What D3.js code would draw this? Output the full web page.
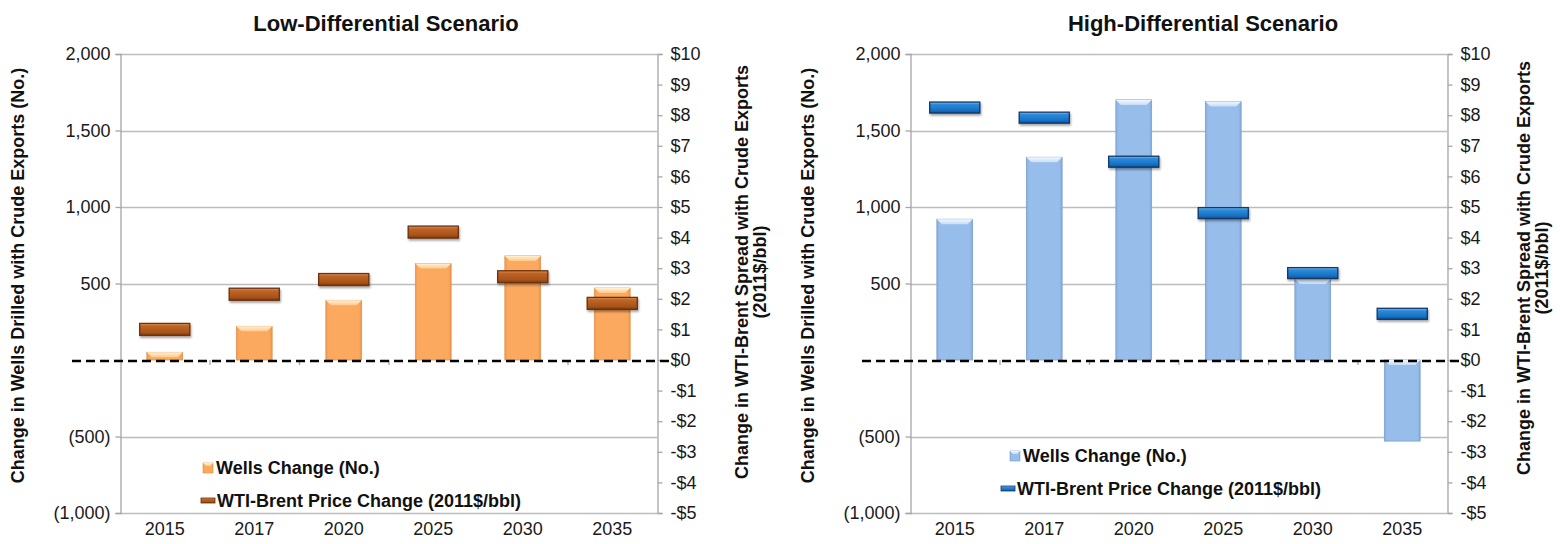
<!DOCTYPE html>
<html>
<head>
<meta charset="utf-8">
<script src="https://cdnjs.cloudflare.com/ajax/libs/d3/7.8.5/d3.min.js"></script>
<style>
  html, body { margin: 0; padding: 0; background: #ffffff; }
  svg { display: block; }
  .tick text { font-family: "Liberation Sans", Arial, sans-serif; font-size: 18px; fill: #1a1a1a; }
</style>
</head>
<body>
<svg id="chart" width="1560" height="544"></svg>
<script>
// Years shown on the category axis
const categories = ["2015", "2017", "2020", "2025", "2030", "2035"];

// Low-differential scenario
const lowWells = [50, 220, 390, 630, 680, 470];          // change in wells drilled (No.)
const lowPrice = [1.00, 2.15, 2.63, 4.18, 2.72, 1.85];   // WTI-Brent spread change (2011$/bbl)

// High-differential scenario
const highWells = [920, 1325, 1700, 1690, 530, -530];
const highPrice = [8.25, 7.92, 6.48, 4.80, 2.84, 1.51];

// Axis tick values
const wellsTicks = [-1000, -500, 0, 500, 1000, 1500, 2000];
const priceTicks = [-5, -4, -3, -2, -1, 0, 1, 2, 3, 4, 5, 6, 7, 8, 9, 10];

const svg = d3.select("#chart");
const FONT = '"Liberation Sans", Arial, sans-serif';
const NARROW = '"Liberation Sans Narrow", "Arial Narrow", "Liberation Sans", Arial, sans-serif';

// Gradients for the bevelled bars and markers
const defs = svg.append("defs");
function vGrad(id, stops) {
  const g = defs.append("linearGradient").attr("id", id)
    .attr("x1", 0).attr("y1", 0).attr("x2", 0).attr("y2", 1);
  stops.forEach(s => g.append("stop").attr("offset", s[0]).attr("stop-color", s[1]));
}
function hGrad(id, stops) {
  const g = defs.append("linearGradient").attr("id", id)
    .attr("x1", 0).attr("y1", 0).attr("x2", 1).attr("y2", 0);
  stops.forEach(s => g.append("stop").attr("offset", s[0]).attr("stop-color", s[1]));
}
hGrad("orangeBody", [[0, "#F39A4E"], [0.08, "#FBA95F"], [0.92, "#FBA95F"], [1, "#EE9448"]]);
vGrad("orangeTop", [[0, "#FFF1D6"], [1, "#FDC98A"]]);
vGrad("brownBody", [[0, "#E09358"], [0.22, "#BE6426"], [0.75, "#A9531A"], [1, "#7C3A0E"]]);
hGrad("blueBody", [[0, "#86ADDF"], [0.08, "#97BDEB"], [0.92, "#97BDEB"], [1, "#84A9DA"]]);
vGrad("blueTop", [[0, "#F2F8FF"], [1, "#C6DDF7"]]);
vGrad("navyBody", [[0, "#7CC3F5"], [0.22, "#2B8BDB"], [0.75, "#1670C2"], [1, "#0F4F93"]]);

const shadow = defs.append("filter").attr("id", "shadow")
  .attr("x", "-20%").attr("y", "-40%").attr("width", "140%").attr("height", "200%");
shadow.append("feGaussianBlur").attr("in", "SourceAlpha").attr("stdDeviation", 1.2).attr("result", "b");
shadow.append("feOffset").attr("in", "b").attr("dx", 0.5).attr("dy", 1.5).attr("result", "o");
shadow.append("feComponentTransfer").attr("in", "o").attr("result", "s")
  .append("feFuncA").attr("type", "linear").attr("slope", 0.35);
const merge = shadow.append("feMerge");
merge.append("feMergeNode").attr("in", "s");
merge.append("feMergeNode").attr("in", "SourceGraphic");

const wellsFmt = v => v === 0 ? "" : (v < 0 ? "(" + d3.format(",")(-v) + ")" : d3.format(",")(v));
const priceFmt = v => (v < 0 ? "-$" + (-v) : "$" + v);

function drawPanel(cfg) {
  const { x0, x1, yTop, yBot, title, titleX, wells, price, theme,
          legendX, legendY, legendX2, rightTitleX, rightTitleY } = cfg;
  const g = svg.append("g");

  const x = d3.scaleBand().domain(categories).range([x0, x1]).paddingInner(0.6).paddingOuter(0.3);
  const yW = d3.scaleLinear().domain([-1000, 2000]).range([yBot, yTop]);
  const yP = d3.scaleLinear().domain([-5, 10]).range([yBot, yTop]);

  // horizontal gridlines at the wells ticks
  g.append("g").selectAll("line").data(wellsTicks.filter(v => v !== 0)).join("line")
    .attr("x1", x0).attr("x2", x1)
    .attr("y1", d => Math.round(yW(d)) + 0.5).attr("y2", d => Math.round(yW(d)) + 0.5)
    .attr("stroke", "#BDBDBD").attr("stroke-width", 1.3);

  // left axis (wells)
  const axL = g.append("g").attr("transform", `translate(${x0 + 0.5},0)`)
    .call(d3.axisLeft(yW).tickValues(wellsTicks).tickFormat(wellsFmt).tickSize(5).tickPadding(5));
  axL.selectAll(".domain").attr("stroke", "#A6A6A6").attr("stroke-width", 1.3);
  axL.selectAll(".tick line").attr("stroke", "#A6A6A6").attr("stroke-width", 1.3);

  // right axis (price)
  const axR = g.append("g").attr("transform", `translate(${x1 + 0.5},0)`)
    .call(d3.axisRight(yP).tickValues(priceTicks).tickFormat(priceFmt).tickSize(5).tickPadding(8));
  axR.selectAll(".domain").attr("stroke", "#A6A6A6").attr("stroke-width", 1.3);
  axR.selectAll(".tick line").attr("stroke", "#A6A6A6").attr("stroke-width", 1.3);

  // category labels along the bottom
  const axB = g.append("g").attr("transform", `translate(0,${yBot})`)
    .call(d3.axisBottom(x).tickSize(0).tickPadding(9));
  axB.select(".domain").remove();

  // category tick marks on the zero line
  const y0 = yW(0);
  g.append("g").selectAll("line").data(categories.slice(1)).join("line")
    .attr("x1", d => x(d) + x.bandwidth() / 2 - x.step() / 2 + 0.5)
    .attr("x2", d => x(d) + x.bandwidth() / 2 - x.step() / 2 + 0.5)
    .attr("y1", y0).attr("y2", y0 + 5)
    .attr("stroke", "#A6A6A6").attr("stroke-width", 1.3);

  // wells bars
  const bars = g.append("g").selectAll("g").data(categories).join("g");
  bars.append("rect")
    .attr("x", d => x(d)).attr("width", x.bandwidth())
    .attr("y", (d, i) => Math.min(yW(wells[i]), y0))
    .attr("height", (d, i) => Math.abs(yW(wells[i]) - y0))
    .attr("fill", `url(#${theme.bar})`).attr("stroke", theme.barEdge).attr("stroke-width", 0.8);
  bars.append("path")
    .attr("d", (d, i) => {
      const top = Math.min(yW(wells[i]), y0);
      const h = Math.min(5, Math.abs(yW(wells[i]) - y0));
      const l = x(d), r = x(d) + x.bandwidth();
      return `M${l},${top}L${r},${top}L${r - 5},${top + h}L${l + 5},${top + h}Z`;
    })
    .attr("fill", `url(#${theme.barTop})`);

  // zero reference line (dashed)
  g.append("line")
    .attr("x1", x0 - 48).attr("x2", x1 + 14)
    .attr("y1", y0 + 1).attr("y2", y0 + 1)
    .attr("stroke", "#000").attr("stroke-width", 2.6).attr("stroke-dasharray", "9,5");

  // price-change markers
  const mw = x.step() * 0.56, mh = theme.markerH;
  g.append("g").selectAll("rect").data(categories).join("rect")
    .attr("x", d => x(d) + x.bandwidth() / 2 - mw / 2)
    .attr("y", (d, i) => yP(price[i]) - mh / 2)
    .attr("width", mw).attr("height", mh)
    .attr("fill", `url(#${theme.marker})`).attr("stroke", theme.markerEdge).attr("stroke-width", 1.3)
    .attr("filter", "url(#shadow)");

  // titles
  g.append("text").attr("x", titleX).attr("y", 31).attr("text-anchor", "middle")
    .style("font-family", NARROW).style("font-weight", "bold").style("font-size", "22px")
    .attr("fill", "#111").text(title);

  g.append("text")
    .attr("transform", `translate(${x0 - 96},${(yTop + yBot) / 2 - 8}) rotate(-90)`)
    .attr("text-anchor", "middle")
    .style("font-family", FONT).style("font-weight", "bold").style("font-size", "18px")
    .attr("fill", "#111").text("Change in Wells Drilled with Crude Exports (No.)");

  const rt = g.append("text")
    .attr("transform", `translate(${rightTitleX},${rightTitleY}) rotate(-90)`)
    .attr("text-anchor", "middle")
    .style("font-family", FONT).style("font-weight", "bold").style("font-size", "18px")
    .attr("fill", "#111");
  rt.append("tspan").attr("x", 0).attr("dy", 0).text("Change in WTI-Brent Spread with Crude Exports");
  rt.append("tspan").attr("x", 0).attr("dy", 18).text("(2011$/bbl)");

  // legend
  const lg = g.append("g");
  lg.append("rect").attr("x", legendX).attr("y", legendY - 5).attr("width", 10).attr("height", 10)
    .attr("fill", `url(#${theme.bar})`).attr("stroke", theme.barEdge).attr("stroke-width", 0.6);
  lg.append("path")
    .attr("d", `M${legendX},${legendY - 5}L${legendX + 10},${legendY - 5}L${legendX + 7},${legendY - 2}L${legendX + 3},${legendY - 2}Z`)
    .attr("fill", `url(#${theme.barTop})`);
  lg.append("text").attr("x", legendX + 13).attr("y", legendY + 6)
    .style("font-family", FONT).style("font-weight", "bold").style("font-size", "18px")
    .attr("fill", "#111").text("Wells Change (No.)");
  lg.append("rect").attr("x", legendX2).attr("y", legendY + 30).attr("width", 14).attr("height", 5)
    .attr("fill", `url(#${theme.marker})`).attr("stroke", theme.markerEdge).attr("stroke-width", 0.8);
  lg.append("text").attr("x", legendX2 + 16).attr("y", legendY + 39)
    .style("font-family", FONT).style("font-weight", "bold").style("font-size", "18px")
    .attr("fill", "#111").text("WTI-Brent Price Change (2011$/bbl)");
}

drawPanel({
  x0: 120, x1: 657, yTop: 54, yBot: 513,
  title: "Low-Differential Scenario", titleX: 386,
  wells: lowWells, price: lowPrice,
  legendX: 203, legendY: 468, legendX2: 201,
  rightTitleX: 748, rightTitleY: 272,
  theme: { bar: "orangeBody", barTop: "orangeTop", barEdge: "#E2924E",
           marker: "brownBody", markerEdge: "#6A300C", markerH: 12 }
});

drawPanel({
  x0: 910, x1: 1447, yTop: 54, yBot: 513,
  title: "High-Differential Scenario", titleX: 1203,
  wells: highWells, price: highPrice,
  legendX: 1010, legendY: 456, legendX2: 1001,
  rightTitleX: 1530, rightTitleY: 268,
  theme: { bar: "blueBody", barTop: "blueTop", barEdge: "#7D9FCB",
           marker: "navyBody", markerEdge: "#123766", markerH: 11 }
});
</script>
</body>
</html>
